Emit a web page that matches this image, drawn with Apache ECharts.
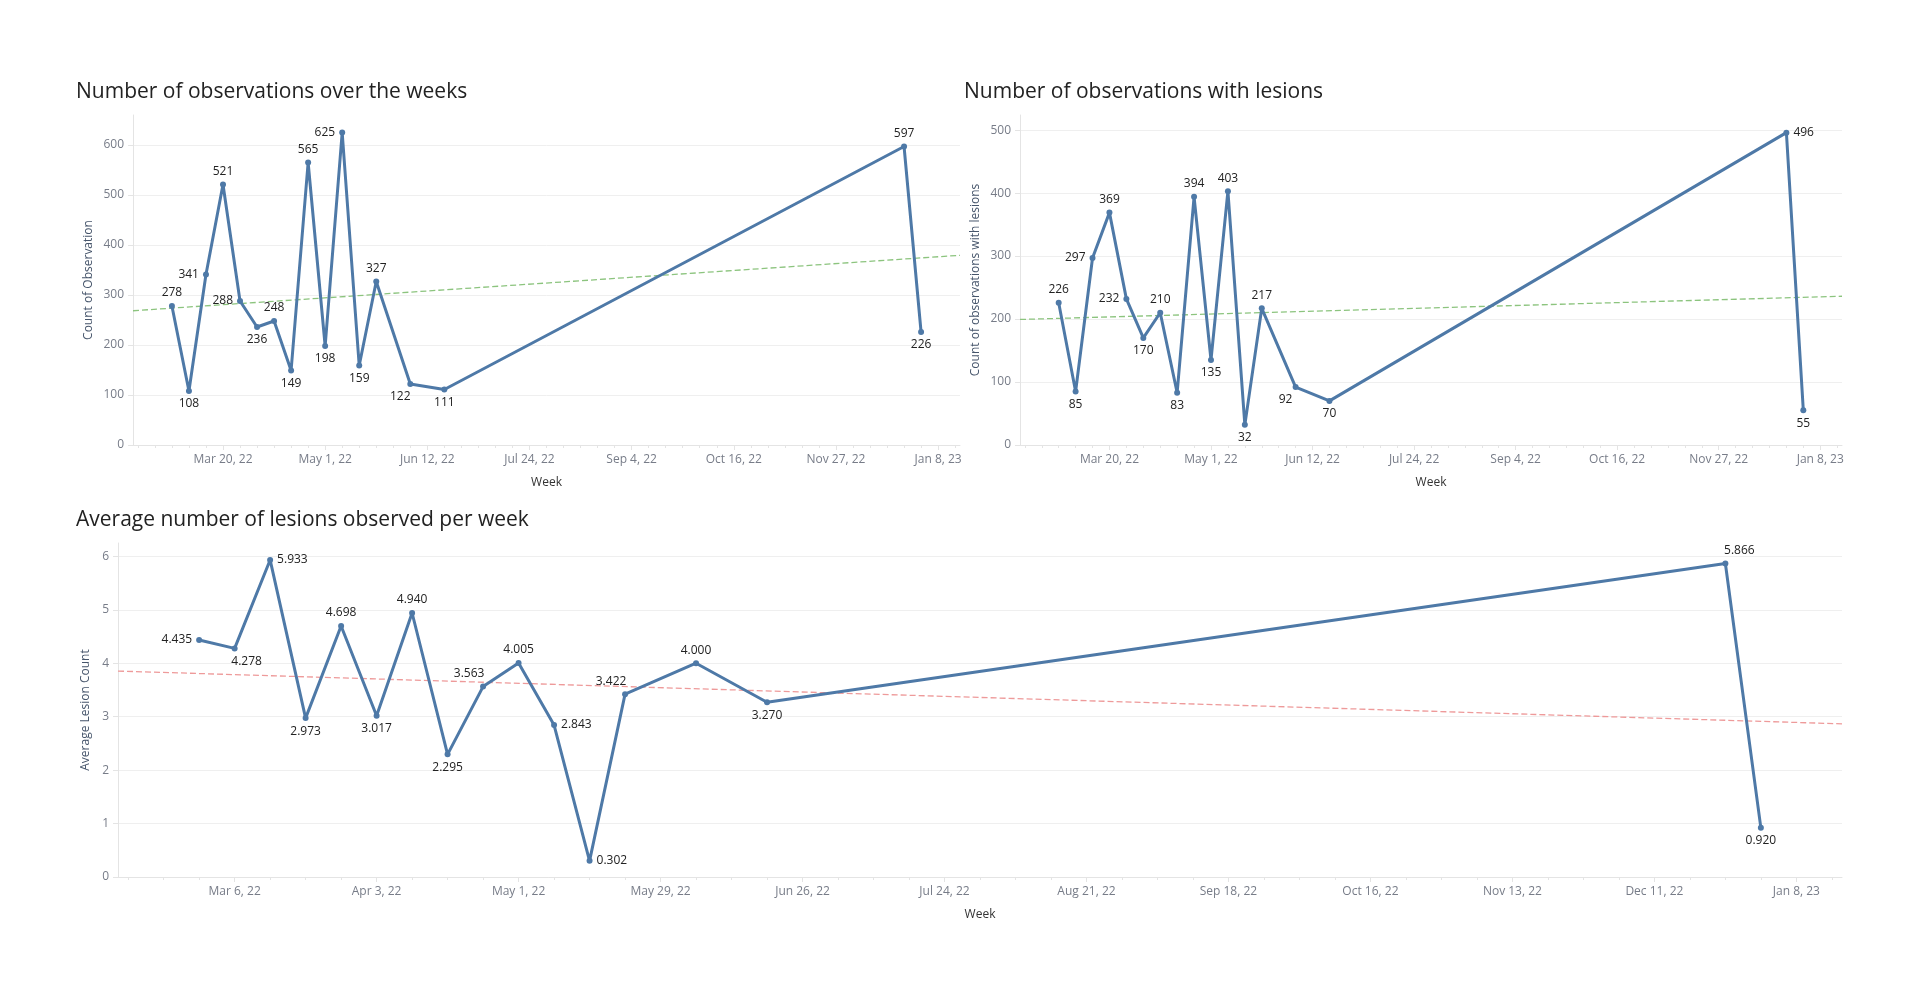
<!DOCTYPE html>
<html>
<head>
<meta charset="utf-8">
<title>Observations and lesions per week</title>
<script src="https://cdn.jsdelivr.net/npm/echarts@6/dist/echarts.min.js"></script>
<style>
  html, body { margin: 0; padding: 0; background: #fff; }
  #chart { width: 1916px; height: 1005px; }
</style>
</head>
<body>
<div id="chart"></div>
<script>
// week start (Sunday) shared by the three charts
const weeks = ['2022-02-27', '2022-03-06', '2022-03-13', '2022-03-20', '2022-03-27', '2022-04-03',
  '2022-04-10', '2022-04-17', '2022-04-24', '2022-05-01', '2022-05-08', '2022-05-15', '2022-05-22',
  '2022-06-05', '2022-06-19', '2022-12-25', '2023-01-01'];
const observations = [278, 108, 341, 521, 288, 236, 248, 149, 565, 198, 625, 159, 327, 122, 111, 597, 226];
const lesionObservations = [226, 85, 297, 369, 232, 170, 210, 83, 394, 135, 403, 32, 217, 92, 70, 496, 55];
const avgLesions = [4.435, 4.278, 5.933, 2.973, 4.698, 3.017, 4.940, 2.295, 3.563, 4.005, 2.843, 0.302,
  3.422, 4.000, 3.270, 5.866, 0.920];

// tick labels
const topWeekTicks = ['2022-03-20', '2022-05-01', '2022-06-12', '2022-07-24', '2022-09-04', '2022-10-16',
  '2022-11-27', '2023-01-08'];
const bottomWeekTicks = ['2022-03-06', '2022-04-03', '2022-05-01', '2022-05-29', '2022-06-26', '2022-07-24',
  '2022-08-21', '2022-09-18', '2022-10-16', '2022-11-13', '2022-12-11', '2023-01-08'];
const obsTicks = [0, 100, 200, 300, 400, 500, 600];
const lesionTicks = [0, 100, 200, 300, 400, 500];
const avgTicks = [0, 1, 2, 3, 4, 5, 6];

// ---- helpers ----
const day = s => Date.UTC(+s.slice(0, 4), +s.slice(5, 7) - 1, +s.slice(8, 10));
const MONTHS = ['Jan', 'Feb', 'Mar', 'Apr', 'May', 'Jun', 'Jul', 'Aug', 'Sep', 'Oct', 'Nov', 'Dec'];
function fmtWeek(v) {
  const d = new Date(v);
  return MONTHS[d.getUTCMonth()] + ' ' + d.getUTCDate() + ', ' + String(d.getUTCFullYear()).slice(2);
}

const xMin = day('2022-02-11');
const xMax = day('2023-01-17');
const weekX = weeks.map(day);

// unlabelled weekly ticks
const minorTicks = [];
for (let t = day('2022-02-13'); t <= xMax; t += 7 * 864e5) minorTicks.push(t);

// least squares trend over the weekly points, drawn across the whole axis
function trend(xs, ys) {
  const n = xs.length;
  const mx = xs.reduce((a, b) => a + b, 0) / n;
  const my = ys.reduce((a, b) => a + b, 0) / n;
  let sxy = 0, sxx = 0;
  for (let i = 0; i < n; i++) {
    sxy += (xs[i] - mx) * (ys[i] - my);
    sxx += (xs[i] - mx) * (xs[i] - mx);
  }
  const b = sxy / sxx;
  return [[xMin, my + b * (xMin - mx)], [xMax, my + b * (xMax - mx)]];
}

// ---- style ----
const FONT = 'Open Sans';
const BLUE = '#4e79a7';
const AXIS_GREY = '#e4e4e4';
const GRID_GREY = '#efefef';
const LABEL_GREY = '#777c88';

// where each point's value label sits (t, b, l, r, tl, bl, br, tr)
const obsLabelPos = ['t', 'b', 'l', 't', 'l', 'b', 't', 'b', 't', 'b', 'l', 'b', 't', 'bl', 'b', 't', 'b'];
const lesionLabelPos = ['t', 'b', 'l', 't', 'l', 'b', 't', 'b', 't', 'b', 't', 'b', 't', 'bl', 'b', 'r', 'b'];
const avgLabelPos = ['l', 'br', 'r', 'b', 't', 'b', 't', 'b', 'tl', 't', 'r', 'r', 'tl', 't', 'b', 'tr', 'b'];

const POS = {
  t: ['top', [0, 0]], b: ['bottom', [0, 0]], l: ['left', [0, 0]], r: ['right', [0, 0]],
  tl: ['top', [-14, 0]], bl: ['bottom', [-10, 0]], br: ['bottom', [12, 0]], tr: ['top', [14, 0]]
};

function points(values, pos, fmt) {
  return values.map((v, i) => ({
    value: [weekX[i], v],
    label: { position: POS[pos[i]][0], offset: POS[pos[i]][1], formatter: () => fmt(v) }
  }));
}

function lineSeries(idx, values, pos, fmt) {
  return {
    type: 'line', xAxisIndex: idx * 2, yAxisIndex: idx,
    data: points(values, pos, fmt),
    symbol: 'circle', symbolSize: 6,
    itemStyle: { color: BLUE },
    lineStyle: { color: BLUE, width: 3 },
    label: { show: true, fontFamily: FONT, fontSize: 12, color: '#222', distance: 4 },
    emphasis: { disabled: true },
    z: 3
  };
}

function trendSeries(idx, values, color) {
  return {
    type: 'line', xAxisIndex: idx * 2, yAxisIndex: idx,
    data: trend(weekX, values),
    symbol: 'none', silent: true,
    lineStyle: { color: color, width: 1.3, type: [6, 3] },
    z: 2
  };
}

function weekAxes(gridIndex, ticks) {
  const tickVals = ticks.map(day);
  return [{
    type: 'value', gridIndex: gridIndex, position: 'bottom', min: xMin, max: xMax,
    name: 'Week', nameLocation: 'middle', nameGap: 32,
    nameTextStyle: { fontFamily: FONT, fontSize: 12, color: '#333' },
    axisLine: { show: true, lineStyle: { color: AXIS_GREY } },
    axisTick: { show: true, customValues: tickVals, length: 5, lineStyle: { color: AXIS_GREY } },
    axisLabel: { customValues: tickVals, formatter: fmtWeek, margin: 9,
      fontFamily: FONT, fontSize: 12, color: LABEL_GREY },
    splitLine: { show: false }
  }, {
    type: 'value', gridIndex: gridIndex, position: 'bottom', min: xMin, max: xMax,
    axisLine: { show: false },
    axisTick: { show: true, customValues: minorTicks, length: 3, lineStyle: { color: AXIS_GREY } },
    axisLabel: { show: false },
    splitLine: { show: false }
  }];
}

function countAxis(gridIndex, max, ticks, name, gap) {
  return {
    type: 'value', gridIndex: gridIndex, min: 0, max: max,
    name: name, nameLocation: 'middle', nameGap: gap, nameRotate: 90,
    nameTextStyle: { fontFamily: FONT, fontSize: 12, color: '#46556b' },
    axisLine: { show: true, lineStyle: { color: AXIS_GREY } },
    axisTick: { show: true, customValues: ticks, length: 5, lineStyle: { color: AXIS_GREY } },
    axisLabel: { customValues: ticks, margin: 9, fontFamily: FONT, fontSize: 12, color: LABEL_GREY },
    splitLine: { show: true, lineStyle: { color: GRID_GREY } }
  };
}

const titleStyle = { fontFamily: FONT, fontSize: 21, fontWeight: 'normal', color: '#222' };

const chart = echarts.init(document.getElementById('chart'), null, { renderer: 'canvas' });
chart.setOption({
  backgroundColor: '#fff',
  animation: false,
  title: [
    { text: 'Number of observations over the weeks', left: 76, top: 82, padding: 0, textStyle: titleStyle },
    { text: 'Number of observations with lesions', left: 964, top: 82, padding: 0, textStyle: titleStyle },
    { text: 'Average number of lesions observed per week', left: 76, top: 510, padding: 0, textStyle: titleStyle }
  ],
  grid: [
    { left: 133, top: 115, width: 827, height: 330, outerBoundsMode: 'none' },
    { left: 1020, top: 115, width: 822, height: 330, outerBoundsMode: 'none' },
    { left: 118, top: 543, width: 1724, height: 334, outerBoundsMode: 'none' }
  ],
  xAxis: [
    ...weekAxes(0, topWeekTicks),
    ...weekAxes(1, topWeekTicks),
    ...weekAxes(2, bottomWeekTicks)
  ],
  yAxis: [
    countAxis(0, 660, obsTicks, 'Count of Observation', 38),
    countAxis(1, 524, lesionTicks, 'Count of observations with lesions', 38),
    countAxis(2, 6.25, avgTicks, 'Average Lesion Count', 24)
  ],
  series: [
    trendSeries(0, observations, '#8cc47e'),
    lineSeries(0, observations, obsLabelPos, v => String(v)),
    trendSeries(1, lesionObservations, '#8cc47e'),
    lineSeries(1, lesionObservations, lesionLabelPos, v => String(v)),
    trendSeries(2, avgLesions, '#ee9a9a'),
    lineSeries(2, avgLesions, avgLabelPos, v => v.toFixed(3))
  ]
});
</script>
</body>
</html>
